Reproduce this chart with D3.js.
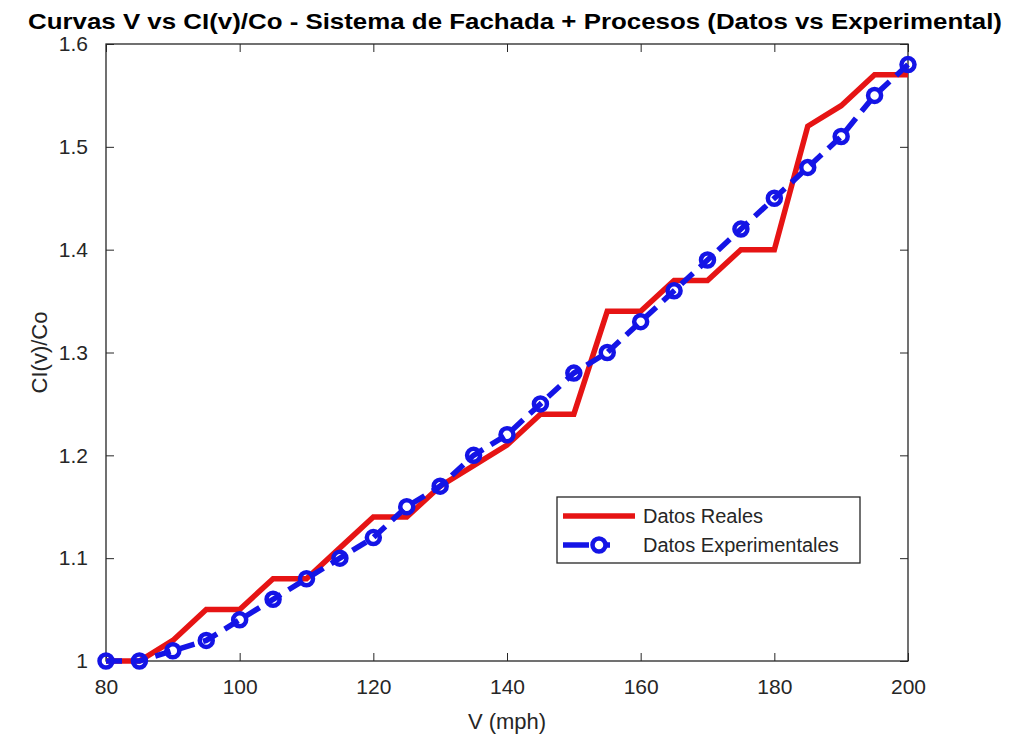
<!DOCTYPE html>
<html>
<head>
<meta charset="utf-8">
<script src="https://cdn.jsdelivr.net/npm/d3@7"></script>
<style>
  body { margin: 0; background: #fff; }
  text { font-family: "Liberation Sans", Arial, sans-serif; }
</style>
</head>
<body>
<script>
const w = 1011;
const h = 740;
const margin = { top: 44, right: 103, bottom: 79, left: 106 };

// velocities (mph)
const speeds = [80, 85, 90, 95, 100, 105, 110, 115, 120, 125, 130, 135, 140,
  145, 150, 155, 160, 165, 170, 175, 180, 185, 190, 195, 200];
const realValues = [1.00, 1.00, 1.02, 1.05, 1.05, 1.08, 1.08, 1.11, 1.14, 1.14,
  1.17, 1.19, 1.21, 1.24, 1.24, 1.34, 1.34, 1.37, 1.37, 1.40, 1.40, 1.52, 1.54,
  1.57, 1.57];
const expValues = [1.00, 1.00, 1.01, 1.02, 1.04, 1.06, 1.08, 1.10, 1.12, 1.15,
  1.17, 1.20, 1.22, 1.25, 1.28, 1.30, 1.33, 1.36, 1.39, 1.42, 1.45, 1.48, 1.51,
  1.55, 1.58];
const xTicks = [80, 100, 120, 140, 160, 180, 200];
const yTicks = [1, 1.1, 1.2, 1.3, 1.4, 1.5, 1.6];
const seriesNames = ["Datos Reales", "Datos Experimentales"];

const red = "#e61414";
const blue = "#1414e6";
const axisColor = "#262626";

const svg = d3.select("body").append("svg").attr("width", w).attr("height", h);

const x = d3.scaleLinear().domain([80, 200]).range([margin.left, w - margin.right]);
const y = d3.scaleLinear().domain([1, 1.6]).range([h - margin.bottom, margin.top]);

// axes (MATLAB style: ticks inward, box)
const tickLen = 8;
svg.append("g")
  .attr("transform", `translate(0, ${h - margin.bottom})`)
  .call(d3.axisBottom(x).tickValues(xTicks).tickSizeInner(-tickLen).tickSizeOuter(0).tickPadding(18))
  .call((g) => g.select(".domain").remove());
svg.append("g")
  .attr("transform", `translate(0, ${margin.top})`)
  .call(d3.axisTop(x).tickValues(xTicks).tickSizeInner(-tickLen).tickSizeOuter(0).tickFormat(""))
  .call((g) => g.select(".domain").remove());
svg.append("g")
  .attr("transform", `translate(${margin.left}, 0)`)
  .call(d3.axisLeft(y).tickValues(yTicks).tickSizeInner(-tickLen).tickSizeOuter(0).tickPadding(18).tickFormat(d3.format("~g")))
  .call((g) => g.select(".domain").remove());
svg.append("g")
  .attr("transform", `translate(${w - margin.right}, 0)`)
  .call(d3.axisRight(y).tickValues(yTicks).tickSizeInner(-tickLen).tickSizeOuter(0).tickFormat(""))
  .call((g) => g.select(".domain").remove());

svg.selectAll(".tick line").attr("stroke", axisColor);
svg.selectAll(".tick text")
  .attr("fill", axisColor)
  .style("font-size", "21px")
  .style("font-family", "'Liberation Sans', Arial, sans-serif");

svg.append("rect")
  .attr("x", margin.left)
  .attr("y", margin.top)
  .attr("width", w - margin.left - margin.right)
  .attr("height", h - margin.top - margin.bottom)
  .attr("fill", "none")
  .attr("stroke", axisColor)
  .attr("stroke-width", 1.3);

// lines
const line = d3.line().x((d) => x(d[0])).y((d) => y(d[1]));
const realData = speeds.map((s, i) => [s, realValues[i]]);
const expData = speeds.map((s, i) => [s, expValues[i]]);

svg.append("path")
  .datum(realData)
  .attr("d", line)
  .attr("fill", "none")
  .attr("stroke", red)
  .attr("stroke-width", 5.5);

svg.append("path")
  .datum(expData)
  .attr("d", line)
  .attr("fill", "none")
  .attr("stroke", blue)
  .attr("stroke-width", 5.5)
  .attr("stroke-dasharray", "16,9");

svg.selectAll(".marker")
  .data(expData)
  .enter()
  .append("circle")
  .attr("class", "marker")
  .attr("cx", (d) => x(d[0]))
  .attr("cy", (d) => y(d[1]))
  .attr("r", 6.5)
  .attr("fill", "none")
  .attr("stroke", blue)
  .attr("stroke-width", 4.5);

// title and labels
svg.append("text")
  .attr("x", 515)
  .attr("y", 29)
  .attr("text-anchor", "middle")
  .attr("font-weight", "bold")
  .attr("font-size", 22)
  .attr("fill", "#000")
  .attr("textLength", 974)
  .attr("lengthAdjust", "spacingAndGlyphs")
  .text("Curvas V vs CI(v)/Co - Sistema de Fachada + Procesos (Datos vs Experimental)");

svg.append("text")
  .attr("x", (margin.left + w - margin.right) / 2)
  .attr("y", 729)
  .attr("text-anchor", "middle")
  .attr("font-size", 22)
  .attr("fill", axisColor)
  .text("V (mph)");

svg.append("text")
  .attr("transform", `translate(47, ${(margin.top + h - margin.bottom) / 2}) rotate(-90)`)
  .attr("text-anchor", "middle")
  .attr("font-size", 22)
  .attr("fill", axisColor)
  .text("CI(v)/Co");

// legend
const legend = svg.append("g").attr("transform", "translate(557, 497)");
legend.append("rect")
  .attr("width", 303)
  .attr("height", 66)
  .attr("fill", "#fff")
  .attr("stroke", axisColor)
  .attr("stroke-width", 1.3);

legend.append("line")
  .attr("x1", 6).attr("x2", 78)
  .attr("y1", 19).attr("y2", 19)
  .attr("stroke", red)
  .attr("stroke-width", 5.5);
legend.append("line")
  .attr("x1", 6).attr("x2", 78)
  .attr("y1", 48).attr("y2", 48)
  .attr("stroke", blue)
  .attr("stroke-width", 5.5)
  .attr("stroke-dasharray", "26,10,11");
legend.append("circle")
  .attr("cx", 42).attr("cy", 48)
  .attr("r", 6.5)
  .attr("fill", "#fff")
  .attr("stroke", blue)
  .attr("stroke-width", 4.5);

legend.selectAll(".legend-label")
  .data(seriesNames)
  .enter()
  .append("text")
  .attr("class", "legend-label")
  .attr("x", 86)
  .attr("y", (d, i) => 26 + i * 29)
  .attr("font-size", 20)
  .attr("fill", axisColor)
  .text((d) => d);
</script>
</body>
</html>
